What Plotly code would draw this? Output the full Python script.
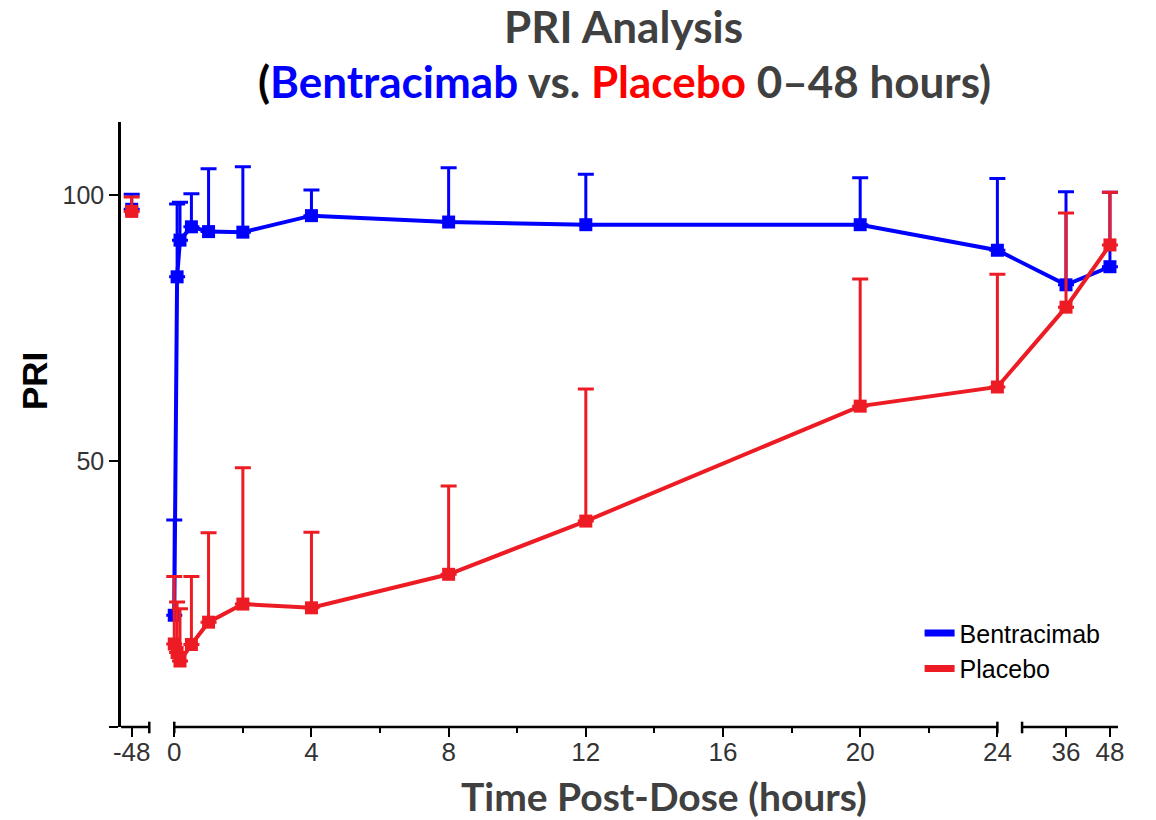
import plotly.graph_objects as go

# ---------------- data ----------------
time_h = [-48, 0, 0.083, 0.167, 0.5, 1, 2, 4, 8, 12, 20, 24, 36, 48]
bentracimab_mean = [97.3, 21.0, 84.6, 91.5, 94.0, 93.1, 93.0, 96.1, 94.9, 94.4, 94.4, 89.6, 83.1, 86.5]
bentracimab_upper = [100.1, 38.9, 98.3, 98.6, 100.2, 104.9, 105.3, 100.9, 105.1, 103.9, 103.2, 103.1, 100.6, 100.5]
placebo_mean = [96.9, 15.6, 14.0, 12.4, 15.5, 19.7, 23.1, 22.4, 28.7, 38.7, 60.3, 63.9, 78.9, 90.6]
placebo_upper = [99.6, 28.3, 23.5, 22.2, 28.3, 36.5, 48.7, 36.6, 45.3, 63.5, 84.2, 85.1, 96.6, 100.5]

major_ticks = [-48, 0, 4, 8, 12, 16, 20, 24, 36, 48]
major_labels = ["-48", "0", "4", "8", "12", "16", "20", "24", "36", "48"]
minor_ticks = [2, 6, 10, 14, 18, 22]

BLUE = "#0000FF"
RED = "#ED1C24"

# ---------------- broken x-axis: piecewise scale ----------------
K = 0.10676  # compressed scale for the outer segments
SEG1 = (-50.9, -43.2)   # baseline segment (hours)
SEG2 = (0.0, 24.0)      # main segment
SEG3 = (24.0, 50.2)     # late segment


def to_u(t):
    if t < 0:
        return -1.241 + (t + 48) * K
    if 0 <= t <= 24:
        return t
    return 24.72 + (t - 24) * K


def seg_u(seg, late=False):
    a, b = seg
    if late:
        return 24.72 + (a - 24) * K, 24.72 + (b - 24) * K
    return to_u(a), to_u(b)


u_all = [to_u(t) for t in time_h]
b_err = [u - m for u, m in zip(bentracimab_upper, bentracimab_mean)]
p_err = [u - m for u, m in zip(placebo_upper, placebo_mean)]

fig = go.Figure()


def add_series(mean, err, color):
    # baseline (not connected to post-dose)
    fig.add_trace(go.Scatter(
        x=u_all[:1], y=mean[:1], mode="markers", showlegend=False,
        marker=dict(symbol="square", size=13, color=color),
        error_y=dict(type="data", symmetric=False, array=err[:1], arrayminus=[0],
                     width=8, thickness=3, color=color),
        cliponaxis=False, hoverinfo="skip"))
    fig.add_trace(go.Scatter(
        x=u_all[1:], y=mean[1:], mode="lines+markers", showlegend=False,
        line=dict(color=color, width=4),
        marker=dict(symbol="square", size=13, color=color),
        error_y=dict(type="data", symmetric=False, array=err[1:],
                     arrayminus=[0] * (len(err) - 1),
                     width=8, thickness=3, color=color),
        cliponaxis=False, hoverinfo="skip"))


add_series(bentracimab_mean, b_err, BLUE)
add_series(placebo_mean, p_err, RED)

# legend entries
fig.add_trace(go.Scatter(x=[None], y=[None], mode="lines", name="Bentracimab",
                         line=dict(color=BLUE, width=7), legendgroup="b"))
fig.add_trace(go.Scatter(x=[None], y=[None], mode="lines", name="Placebo",
                         line=dict(color=RED, width=7), legendgroup="p"))

# axis line segments + end caps for the broken axis
s1 = seg_u(SEG1)
s2 = seg_u(SEG2)
s3 = seg_u(SEG3, late=True)
shapes = []
for a, b in (s1, s2, s3):
    shapes.append(dict(type="line", xref="x", yref="paper", x0=a, x1=b, y0=0, y1=0,
                       line=dict(color="black", width=2.5)))
for c in (s1[1], s2[0], s2[1], s3[0]):
    shapes.append(dict(type="line", xref="x", yref="paper", x0=c, x1=c,
                       y0=-0.0104, y1=0.0088, line=dict(color="black", width=2.5)))

x_lo = -1.553
x_hi = s3[1]

fig.update_layout(
    width=1156, height=820,
    margin=dict(l=121, r=1156 - 1118.3, t=122, b=93, autoexpand=False),
    paper_bgcolor="white", plot_bgcolor="white",
    showlegend=True,
    legend=dict(x=0.801, y=0.193, xanchor="left", yanchor="top",
                font=dict(family="Liberation Sans, Arial", size=25, color="black"),
                bgcolor="rgba(0,0,0,0)", traceorder="grouped", tracegroupgap=0),
    shapes=shapes,
    font=dict(family="Liberation Sans, Arial"),
)

fig.update_xaxes(
    range=[x_lo, x_hi], showline=False, zeroline=False, showgrid=False,
    tickmode="array", tickvals=[to_u(t) for t in major_ticks], ticktext=major_labels,
    ticks="outside", ticklen=9, tickwidth=2, tickcolor="black",
    ticklabelstandoff=-7,
    tickfont=dict(family="Liberation Sans, Arial", size=26, color="#333333"),
    minor=dict(tickmode="array", tickvals=minor_ticks, ticks="outside",
               ticklen=5, tickwidth=2, tickcolor="black"),
)
fig.update_yaxes(
    range=[0, 113.7], showline=True, linecolor="black", linewidth=2.5,
    zeroline=False, showgrid=False,
    tickmode="array", tickvals=[0, 50, 100], ticktext=["", "50", "100"],
    ticks="outside", ticklen=9, tickwidth=2, tickcolor="black",
    tickfont=dict(family="Liberation Sans, Arial", size=25, color="#333333"),
)

PW = 997.3
PH = 605.0


def px(xp):
    return (xp - 121) / PW


def py(yp):
    return (727 - yp) / PH


TITLE_FONT = "Lato, Open Sans, sans-serif"
fig.add_annotation(text="<b>PRI Analysis</b>", xref="paper", yref="paper",
                   x=px(624), y=py(26), xanchor="center", yanchor="middle", showarrow=False,
                   font=dict(family=TITLE_FONT, size=44, color="#404040"))
fig.add_annotation(
    text=("<b><span style='color:#000000'>(</span>"
          "<span style='color:#0000FF'>Bentracimab</span> vs. "
          "<span style='color:#FF0000'>Placebo</span> 0\u201348 hours)</b>"),
    xref="paper", yref="paper", x=px(625), y=py(81), xanchor="center", yanchor="middle",
    showarrow=False, font=dict(family=TITLE_FONT, size=44, color="#404040"))
fig.add_annotation(text="<b>Time Post-Dose (hours)</b>", xref="paper", yref="paper",
                   x=px(664), y=py(796), xanchor="center", yanchor="middle", showarrow=False,
                   font=dict(family=TITLE_FONT, size=39, color="#404040"))
fig.add_annotation(text="<b>PRI</b>", xref="paper", yref="paper", textangle=-90,
                   x=px(35), y=py(381), xanchor="center", yanchor="middle", showarrow=False,
                   font=dict(family="Liberation Sans, Arial", size=35, color="black"))

fig.write_html("out.html")
